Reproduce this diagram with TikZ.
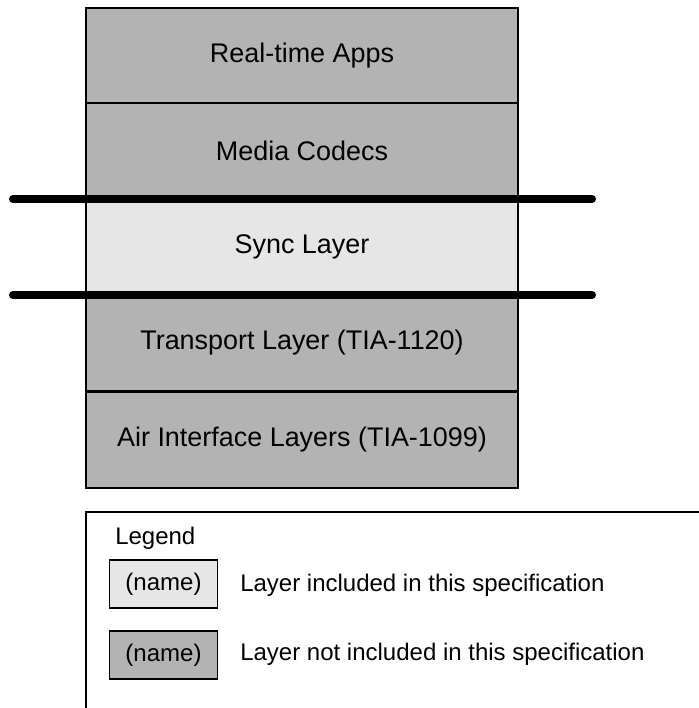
\documentclass[tikz,border=0pt]{standalone}
\usepackage{fontspec}
\setmainfont{Liberation Sans}
\usetikzlibrary{positioning}

\definecolor{notincl}{HTML}{B3B3B3}
\definecolor{incl}{HTML}{E6E6E6}

\begin{document}
\begin{tikzpicture}[x=0.75pt, y=-0.75pt,
  layer/.style={draw, line width=1.5pt, minimum width=324pt, minimum height=72pt,
    inner sep=0pt, font=\fontsize{20.2}{23}\selectfont},
  keybox/.style={draw, line width=1pt, minimum width=81pt, minimum height=36pt,
    inner sep=0pt, font=\fontsize{18}{21}\selectfont},
  keytext/.style={anchor=west, inner sep=0pt, font=\fontsize{18}{21}\selectfont},
  bar/.style={line width=6pt, line cap=round}]

\useasboundingbox (0,0) rectangle (699,708);

% protocol stack
\node[layer, fill=notincl] (L1) at (302,55.5) {Real-time Apps};
\node[layer, fill=notincl] (L2) at (302,150.5) {Media Codecs};
\node[layer, fill=incl] (L3) at (302,246.5) {Sync Layer};
\node[layer, fill=notincl] (L4) at (302,343) {Transport Layer (TIA-1120)};
\node[layer, fill=notincl] (L5) at (302,439.5) {Air Interface Layers (TIA-1099)};

% scope of this specification
\coordinate (T1) at (13,199);
\coordinate (T2) at (592,199);
\coordinate (B1) at (13,295);
\coordinate (B2) at (592,295);
\draw[bar] (T1) -- (T2);
\draw[bar] (B1) -- (B2);

% legend
\begin{scope}
\clip (0,0) rectangle (699,708);
\draw[line width=1.2pt] (86,512) rectangle (740,740);
\end{scope}
\node[keytext] (LG) at (115,538) {Legend};
\node[keybox, fill=incl] (K1) at (163.5,584) {(name)};
\node[keybox, fill=notincl] (K2) at (163.5,655) {(name)};
\node[keytext] (D1) at (240,585) {Layer included in this specification};
\node[keytext] (D2) at (240,654) {Layer not included in this specification};
\end{tikzpicture}
\end{document}
